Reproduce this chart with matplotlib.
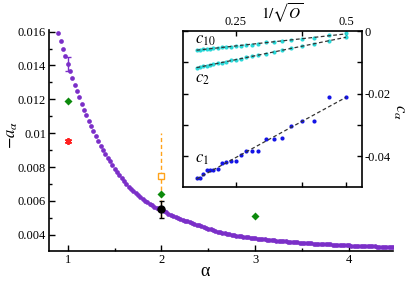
import numpy as np
import matplotlib
matplotlib.use("Agg")
import matplotlib.pyplot as plt

plt.rcParams['font.family'] = ['Liberation Serif', 'DejaVu Serif']
plt.rcParams['mathtext.fontset'] = 'stix'
plt.rcParams['axes.unicode_minus'] = False

# main curve, -a_alpha sampled every 0.025 from alpha = 0.9
alpha_start, alpha_step = 0.9, 0.025
curve_vals = [
    0.01590, 0.01543, 0.01498, 0.01454, 0.01411, 0.01367, 0.01326, 0.01286,
    0.01247, 0.01211, 0.01174, 0.01138, 0.01105, 0.01072, 0.01040, 0.01010,
    0.00983, 0.00955, 0.00927, 0.00902, 0.00878, 0.00854, 0.00833, 0.00811,
    0.00791, 0.00771, 0.00752, 0.00734, 0.00716, 0.00700, 0.00685, 0.00671,
    0.00657, 0.00644, 0.00632, 0.00621, 0.00610, 0.00600, 0.00591, 0.00582,
    0.00574, 0.00566, 0.00559, 0.00552, 0.00545, 0.00538, 0.00532, 0.00525,
    0.00519, 0.00513, 0.00507, 0.00501, 0.00495, 0.00489, 0.00484, 0.00479,
    0.00474, 0.00469, 0.00464, 0.00459, 0.00455, 0.00450, 0.00446, 0.00441,
    0.00436, 0.00432, 0.00427, 0.00423, 0.00419, 0.00415, 0.00412, 0.00408,
    0.00405, 0.00402, 0.00399, 0.00397, 0.00394, 0.00392, 0.00390, 0.00388,
    0.00386, 0.00384, 0.00382, 0.00381, 0.00379, 0.00377, 0.00375, 0.00374,
    0.00372, 0.00371, 0.00370, 0.00368, 0.00367, 0.00366, 0.00364, 0.00363,
    0.00362, 0.00361, 0.00360, 0.00358, 0.00357, 0.00356, 0.00355, 0.00354,
    0.00353, 0.00352, 0.00351, 0.00350, 0.00349, 0.00348, 0.00347, 0.00347,
    0.00346, 0.00345, 0.00344, 0.00344, 0.00343, 0.00342, 0.00341, 0.00341,
    0.00340, 0.00339, 0.00338, 0.00338, 0.00337, 0.00336, 0.00336, 0.00335,
    0.00335, 0.00334, 0.00333, 0.00333, 0.00332, 0.00332, 0.00331, 0.00331,
    0.00330, 0.00330, 0.00329, 0.00329, 0.00328, 0.00327, 0.00327, 0.00326,
]
alpha_grid = alpha_start + alpha_step * np.arange(len(curve_vals))

err1_alpha, err1_val, err1_err = 1.0, 0.0141, 0.0004
green_alpha = [1, 2, 3]
green_vals = [0.0119, 0.00643, 0.0051]
red_alpha = [1]
red_vals = [0.00955]
orange_alpha, orange_val, orange_err = 2, 0.0075, 0.0025
black_alpha, black_val, black_err = 2, 0.0055, 0.0005

# inset: coefficients vs 1/sqrt(O)
inv_sqrt_O = [0.161, 0.169, 0.176, 0.184, 0.192, 0.199, 0.209, 0.218, 0.227,
              0.239, 0.250, 0.261, 0.273, 0.286, 0.301, 0.319, 0.336, 0.354,
              0.376, 0.401, 0.427, 0.461, 0.500]
c1 = [-0.0469, -0.0469, -0.0456, -0.0445, -0.0445, -0.0445, -0.0440, -0.0421,
      -0.0418, -0.0414, -0.0414, -0.0395, -0.0382, -0.0382, -0.0382, -0.0344,
      -0.0344, -0.0340, -0.0302, -0.0286, -0.0286, -0.0212, -0.0212]
c2 = [-0.0117, -0.0115, -0.0113, -0.0110, -0.0108, -0.0106, -0.0103, -0.0101,
      -0.0098, -0.0094, -0.0091, -0.0088, -0.0084, -0.0081, -0.0077, -0.0072,
      -0.0067, -0.0062, -0.0055, -0.0049, -0.0040, -0.0031, -0.0020]
c10 = [-0.0060, -0.0059, -0.0058, -0.0057, -0.0056, -0.0055, -0.0054, -0.0052,
       -0.0051, -0.0050, -0.0048, -0.0047, -0.0045, -0.0043, -0.0041, -0.0036,
       -0.0034, -0.0032, -0.0029, -0.0025, -0.0022, -0.0013, -0.0007]

purple = '#7b2fc8'
green = '#0c8a0c'
orange = '#ffa31a'
cyan = '#2ad8d8'
blue = '#1414e6'

fig = plt.figure(figsize=(4.15, 2.85), dpi=100)
ax = fig.add_axes([0.118, 0.1193, 0.829, 0.7757])

ax.plot(alpha_grid, curve_vals, 'o', color=purple, ms=3.4, mec='none', zorder=3)
ax.errorbar([err1_alpha], [err1_val], yerr=[err1_err], fmt='none', ecolor=purple,
            elinewidth=1, capsize=2, capthick=1, zorder=3)
eb = ax.errorbar([orange_alpha], [orange_val], yerr=[orange_err], fmt='s', mfc='white',
                 mec=orange, ecolor=orange, ms=4.3, mew=1, elinewidth=1, capsize=0, zorder=2)
eb[2][0].set_linestyle((0, (3, 2)))
ax.plot(green_alpha, green_vals, 'D', color=green, ms=3.8, mec='none', zorder=4)
ax.plot(red_alpha, red_vals, marker=(6, 2, 0), color='#ff2020', ms=5, mew=1.3, ls='none', zorder=4)
ax.errorbar([black_alpha], [black_val], yerr=[black_err], fmt='o', color='k', ms=5,
            elinewidth=1, capsize=1.8, capthick=1, zorder=5)

ax.set_xlim(0.8, 4.47)
ax.set_ylim(0.00304, 0.0161)
ax.spines['top'].set_visible(False)
ax.spines['right'].set_visible(False)
for s in ['left', 'bottom']:
    ax.spines[s].set_linewidth(1.2)
ax.set_xticks([1, 2, 3, 4], labels=['1', '2', '3', '4'])
ax.set_xticks([1.5, 2.5, 3.5], minor=True)
ax.set_yticks([0.004, 0.006, 0.008, 0.01, 0.012, 0.014, 0.016],
              labels=['0.004', '0.006', '0.008', '0.01', '0.012', '0.014', '0.016'])
ax.set_yticks([0.005, 0.007, 0.009, 0.011, 0.013, 0.015], minor=True)
ax.tick_params(which='major', direction='in', length=4, width=1, labelsize=9, pad=2)
ax.tick_params(which='minor', direction='in', length=2.2, width=1)

fig.text(12 / 415, 1 - 135 / 285, r'$-a_\alpha$', rotation=90, ha='center', va='center', fontsize=12)
fig.text(205 / 415, 1 - 272 / 285, 'α', ha='center', va='center', fontsize=13)

# inset
axin = fig.add_axes([0.4417, 0.345, 0.430, 0.546])
axin.set_facecolor('white')
xs = np.array(inv_sqrt_O)
for ys, col in [(c10, cyan), (c2, cyan), (c1, blue)]:
    axin.plot(xs, ys, 'o', color=col, ms=3, mec='none', zorder=2)
    k, b = np.polyfit(xs, ys, 1)
    axin.plot(xs[[0, -1]], k * xs[[0, -1]] + b, color='#333333', lw=0.9, ls=(0, (3, 2)), zorder=3)

axin.set_xlim(0.131, 0.536)
axin.set_ylim(-0.0497, 0.0)
for s in axin.spines.values():
    s.set_linewidth(1.2)
axin.set_xticks([0.25, 0.5], labels=['0.25', '0.5'])
axin.set_xticks([0.4], minor=True)
axin.set_yticks([0, -0.01, -0.02, -0.03, -0.04], labels=['0', '', '-0.02', '', '-0.04'])
axin.tick_params(axis='x', which='both', direction='in', top=True, bottom=True,
                 labeltop=True, labelbottom=False)
axin.tick_params(axis='y', which='both', direction='in', left=True, right=True,
                 labelleft=False, labelright=True)
axin.tick_params(which='both', length=3.5, width=1, labelsize=9, pad=2)

axin.text(0.157, -0.0028, r'$c_{10}$', fontsize=12, ha='left', va='center')
axin.text(0.157, -0.0152, r'$c_2$', fontsize=12, ha='left', va='center')
axin.text(0.157, -0.0410, r'$c_1$', fontsize=12, ha='left', va='center')

fig.text(282 / 415, 1 - 13 / 285, r'$1/\sqrt{O}$', ha='center', va='center', fontsize=11)
fig.text(399 / 415, 1 - 112 / 285, r'$c_\alpha$', rotation=-90, ha='center', va='center', fontsize=12)

fig.savefig('out.png', dpi=100)
